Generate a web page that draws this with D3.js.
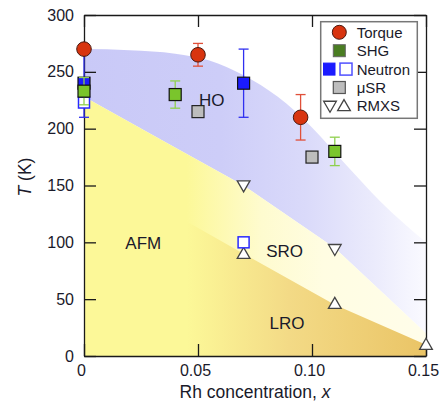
<!DOCTYPE html>
<html>
<head>
<meta charset="utf-8">
<script src="https://cdn.jsdelivr.net/npm/d3@7"></script>
<style>
  body { margin: 0; background: #fff; }
  svg { font-family: "Liberation Sans", Arial, sans-serif; }
  .axis path, .axis line { stroke: #1a1a1a; stroke-width: 1.3; }
  .axis text { font-size: 16px; fill: #1a1a2a; }
  .region-label { font-size: 17px; fill: #1a1a2a; text-anchor: middle; }
</style>
</head>
<body>
<div id="chart"></div>
<script>
// phase boundaries, [x, T]
var hoTop = [[0, 270], [0.02, 269], [0.04, 266], [0.055, 260], [0.07, 247], [0.085, 228],
             [0.1, 201], [0.115, 168], [0.13, 136], [0.15, 100]];
var sroTop = [[0, 228], [0.035, 189], [0.07, 150], [0.11, 95], [0.15, 20]];
var lroTop = [[0.04, 124], [0.07, 90], [0.11, 45], [0.15, 10]];

// measurements: [x, T, err]
var torque = [[0, 270, 0], [0.05, 265, 10], [0.095, 210, 20]];
var shg = [[0, 233, 12], [0.04, 230, 12], [0.11, 180, 12.5]];
var neutronFilled = [[0, 240, 30], [0.07, 240, 30]];
var neutronOpen = [[0, 223], [0.07, 100]];
var musr = [[0.05, 215], [0.10, 175]];
var rmxsDown = [[0.07, 150], [0.11, 94]];
var rmxsUp = [[0.07, 90], [0.11, 46], [0.15, 10]];

var regionLabels = [["HO", 0.056, 225], ["AFM", 0.026, 99], ["SRO", 0.088, 92], ["LRO", 0.089, 29]];
var xTicks = [0, 0.05, 0.1, 0.15];
var yTicks = [0, 50, 100, 150, 200, 250, 300];
var legendItems = ["Torque", "SHG", "Neutron", "\u03bcSR", "RMXS"];

var W = 443, H = 402;
var x = d3.scaleLinear().domain([0, 0.15]).range([84, 426]);
var y = d3.scaleLinear().domain([0, 300]).range([356, 15]);

var svg = d3.select('#chart').append('svg')
    .attr('width', W)
    .attr('height', H);

var defs = svg.append('defs');
function gradient(id, stops) {
    var g = defs.append('linearGradient')
        .attr('id', id)
        .attr('gradientUnits', 'userSpaceOnUse')
        .attr('x1', x(0)).attr('x2', x(0.15))
        .attr('y1', 0).attr('y2', 0);
    stops.forEach(function (s) {
        g.append('stop').attr('offset', s[0]).attr('stop-color', s[1]);
    });
}
gradient('gYellow', [[0, '#fcf898'], [0.3, '#fcf898'], [0.52, '#fefbcf'], [0.7, '#fffde2'], [1, '#fffdea']]);
gradient('gGold', [[0, '#fcf898'], [0.3, '#fcf898'], [0.6, '#f3da86'], [1, '#eac466']]);
gradient('gBlue', [[0, '#c9c9f7'], [0.4, '#cdcdf8'], [0.65, '#dadafa'], [0.85, '#ebebfc'], [1, '#fafaff']]);

var area = d3.line().x((d) => x(d[0])).y((d) => y(d[1]));
var smooth = d3.line().x((d) => x(d[0])).y((d) => y(d[1])).curve(d3.curveMonotoneX);

// HO band (between hoTop and sroTop)
var hoPath = smooth(hoTop) + area(sroTop.slice().reverse()).replace('M', 'L') + 'Z';
svg.append('path').attr('d', hoPath).attr('fill', 'url(#gBlue)');

// AFM / SRO region
var yelPoly = sroTop.concat([[0.15, 0], [0, 0]]);
svg.append('path').attr('d', area(yelPoly) + 'Z').attr('fill', 'url(#gYellow)');

// LRO region
var lroPoly = lroTop.concat([[0.15, 0], [0.04, 0]]);
svg.append('path').attr('d', area(lroPoly) + 'Z').attr('fill', 'url(#gGold)');

// region labels
svg.selectAll('.region-label')
    .data(regionLabels)
    .enter()
    .append('text')
    .attr('class', 'region-label')
    .attr('x', (d) => x(d[1]))
    .attr('y', (d) => y(d[2]) + 6)
    .text((d) => d[0]);

// axes, ticks pointing inward
svg.append('g').attr('class', 'axis')
    .attr('transform', 'translate(0,' + y(0) + ')')
    .call(d3.axisBottom(x).tickValues(xTicks).tickSizeInner(-12).tickSizeOuter(0).tickPadding(9)
        .tickFormat((d) => d === 0 ? '0' : d3.format('.2f')(d)))
    .selectAll('text').attr('dx', '-3');
svg.append('g').attr('class', 'axis')
    .attr('transform', 'translate(0,' + y(300) + ')')
    .call(d3.axisTop(x).tickValues(xTicks).tickSizeInner(-12).tickSizeOuter(0).tickFormat(''));
svg.append('g').attr('class', 'axis')
    .attr('transform', 'translate(' + x(0) + ',0)')
    .call(d3.axisLeft(y).tickValues(yTicks).tickSizeInner(-12).tickSizeOuter(0).tickPadding(10));
svg.append('g').attr('class', 'axis')
    .attr('transform', 'translate(' + x(0.15) + ',0)')
    .call(d3.axisRight(y).tickValues(yTicks).tickSizeInner(-12).tickSizeOuter(0).tickFormat(''));

// axis titles
var xt = svg.append('text')
    .attr('x', 255).attr('y', 398)
    .attr('text-anchor', 'middle')
    .style('font-size', '17.5px')
    .attr('fill', '#1a1a2a');
xt.append('tspan').text('Rh concentration, ');
xt.append('tspan').style('font-style', 'italic').text('x');

var yt = svg.append('text')
    .attr('transform', 'translate(31,177)rotate(-90)')
    .attr('text-anchor', 'middle')
    .style('font-size', '17.5px')
    .attr('fill', '#1a1a2a');
yt.append('tspan').style('font-style', 'italic').text('T');
yt.append('tspan').text(' (K)');

// error bars
function errorBars(data, color) {
    var g = svg.append('g')
        .attr('stroke', color)
        .attr('stroke-width', 1.3);
    data.filter((d) => d[2] > 0).forEach(function (d) {
        var cx = x(d[0]);
        g.append('line').attr('x1', cx).attr('x2', cx).attr('y1', y(d[1] - d[2])).attr('y2', y(d[1] + d[2]));
        g.append('line').attr('x1', cx - 5).attr('x2', cx + 5).attr('y1', y(d[1] - d[2])).attr('y2', y(d[1] - d[2]));
        g.append('line').attr('x1', cx - 5).attr('x2', cx + 5).attr('y1', y(d[1] + d[2])).attr('y2', y(d[1] + d[2]));
    });
}

function squares(data, fill, stroke, size, sw) {
    svg.append('g').selectAll('rect')
        .data(data)
        .enter()
        .append('rect')
        .attr('x', (d) => x(d[0]) - size / 2)
        .attr('y', (d) => y(d[1]) - size / 2)
        .attr('width', size)
        .attr('height', size)
        .attr('fill', fill)
        .attr('stroke', stroke)
        .attr('stroke-width', sw);
}

function triangles(data, rot) {
    svg.append('g').selectAll('path')
        .data(data)
        .enter()
        .append('path')
        .attr('d', d3.symbol(d3.symbolTriangle, 70)())
        .attr('transform', (d) => 'translate(' + x(d[0]) + ',' + (y(d[1]) + (rot ? -1 : 1)) + ')rotate(' + rot + ')')
        .attr('fill', '#fff')
        .attr('stroke', '#444')
        .attr('stroke-width', 1.3);
}

errorBars(neutronFilled, '#3030f0');
squares(neutronOpen.slice(0, 1), '#fff', '#2a2aff', 11, 1.5);
squares(neutronFilled, '#1b1bff', '#111', 12, 1.2);
errorBars(shg, '#8fd04e');
squares(shg, '#7ac52c', '#111', 12, 1.2);
squares(musr, '#bdbdbd', '#222', 12, 1.2);
triangles(rmxsUp, 0);
squares(neutronOpen.slice(1), '#fff', '#2a2aff', 11, 1.5);
triangles(rmxsDown, 180);
errorBars(torque, '#e0503a');
svg.append('g').selectAll('circle')
    .data(torque)
    .enter()
    .append('circle')
    .attr('cx', (d) => x(d[0]))
    .attr('cy', (d) => y(d[1]))
    .attr('r', 7.3)
    .attr('fill', '#d8340f')
    .attr('stroke', '#4a1a10')
    .attr('stroke-width', 1);

// legend
var lg = svg.append('g');
lg.append('rect')
    .attr('x', 320.7).attr('y', 21.7)
    .attr('width', 96.6).attr('height', 96.6)
    .attr('fill', '#fff')
    .attr('stroke', '#777')
    .attr('stroke-width', 1.5);
var rowY = (i) => 32.3 + i * 18.4;
lg.selectAll('text')
    .data(legendItems)
    .enter()
    .append('text')
    .attr('x', 356.7)
    .attr('y', (d, i) => rowY(i) + 5.4)
    .style('font-size', '15px')
    .attr('fill', '#1a1a2a')
    .text((d) => d);
lg.append('circle').attr('cx', 339.3).attr('cy', rowY(0)).attr('r', 7)
    .attr('fill', '#d8340f').attr('stroke', '#4a1a10');
lg.append('rect').attr('x', 333.3).attr('y', rowY(1) - 6).attr('width', 12).attr('height', 12)
    .attr('fill', '#4a7d22').attr('stroke', '#666').attr('stroke-width', 1);
lg.append('rect').attr('x', 323.5).attr('y', rowY(2) - 6).attr('width', 11.5).attr('height', 12)
    .attr('fill', '#1b1bff').attr('stroke', '#1b1bff');
lg.append('rect').attr('x', 340).attr('y', rowY(2) - 6).attr('width', 12).attr('height', 12)
    .attr('fill', '#fff').attr('stroke', '#5050ff').attr('stroke-width', 1.5);
lg.append('rect').attr('x', 333.3).attr('y', rowY(3) - 6).attr('width', 12).attr('height', 12)
    .attr('fill', '#bdbdbd').attr('stroke', '#555').attr('stroke-width', 1.2);
lg.append('path').attr('d', d3.symbol(d3.symbolTriangle, 70)())
    .attr('transform', 'translate(330,' + (rowY(4) - 1) + ')rotate(180)')
    .attr('fill', '#fff').attr('stroke', '#444').attr('stroke-width', 1.3);
lg.append('path').attr('d', d3.symbol(d3.symbolTriangle, 70)())
    .attr('transform', 'translate(344,' + (rowY(4) + 1) + ')')
    .attr('fill', '#fff').attr('stroke', '#444').attr('stroke-width', 1.3);
</script>
</body>
</html>
